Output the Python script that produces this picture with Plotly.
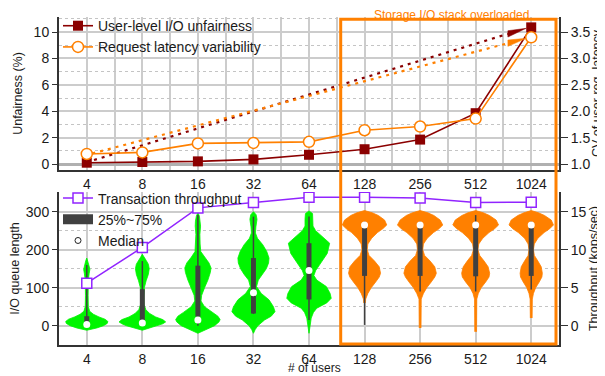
import plotly.graph_objects as go

# ---------------- data ----------------
users = ["4", "8", "16", "32", "64", "128", "256", "512", "1024"]
unfairness = [0.1, 0.15, 0.2, 0.35, 0.7, 1.12, 1.85, 3.85, 10.35]          # %
latency_cv = [1.19, 1.22, 1.39, 1.40, 1.42, 1.64, 1.71, 1.86, 3.40]         # CV
throughput = [5.6, 10.3, 15.5, 16.2, 16.9, 16.9, 16.8, 16.2, 16.25]         # kops/sec

trend_unfair_x = [0.13, 7.91]
trend_unfair_y = [0.3, 10.28]
trend_cv_x = [0.10, 7.91]
trend_cv_y = [1.2, 3.38]

# box statistics of I/O queue length
q25 = [6, 15, 24, 32, 69, 131, 131, 130, 131]
q75 = [25, 96, 158, 178, 217, 259, 259, 262, 259]
median = [3, 7, 15, 87, 145, 265, 265, 265, 265]
whisk_lo = [0, 0, 0, 31, 15, 2, 90, 90, 95]
whisk_hi = [160, 170, 291, 287, 287, 274, 274, 291, 274]

# violin density profiles (queue length level, relative half width)
v4_q = [-12, -6, 0, 6, 11, 17, 23, 30, 38, 50, 80, 120, 138, 148, 158, 170, 178]
v4_w = [0, .45, .75, .92, .95, .82, .55, .3, .13, .07, .06, .07, .11, .14, .1, .05, 0]
v8_q = [-12, -5, 0, 5, 10, 16, 23, 32, 42, 55, 75, 100, 118, 135, 150, 162, 172, 180, 188]
v8_w = [0, .4, .72, .92, 1.05, .92, .6, .33, .16, .08, .07, .09, .17, .27, .31, .27, .17, .08, 0]
v16_q = [-20, -10, 0, 10, 16, 25, 35, 50, 65, 80, 100, 120, 140, 152, 165, 180, 195, 215, 240, 262, 275, 288, 298]
v16_w = [0, .4, .75, .95, 1.0, .9, .65, .3, .14, .17, .3, .45, .56, .59, .5, .3, .13, .1, .09, .12, .11, .07, 0]
v32_q = [-20, -10, 0, 15, 25, 37, 50, 68, 85, 103, 120, 135, 150, 165, 178, 195, 213, 230, 244, 260, 280, 292, 300]
v32_w = [0, .08, .2, .5, .8, .97, .9, .7, .35, .14, .22, .42, .58, .68, .7, .6, .42, .18, .09, .11, .16, .12, 0]
v64_q = [-20, 0, 20, 35, 46, 60, 72, 85, 103, 120, 132, 145, 164, 190, 217, 235, 250, 262, 280, 295, 302]
v64_w = [0, .06, .1, .2, .35, .8, 1.0, .95, .78, .35, .22, .3, .52, .82, .93, .6, .3, .18, .18, .16, 0]
ov_q = [70, 85, 100, 115, 128, 138, 155, 170, 185, 200, 215, 230, 245, 255, 265, 278, 290, 297, 303]
o128_w = [.05, .15, .3, .5, .66, .72, .66, .45, .2, .12, .15, .32, .58, .82, 1.0, .9, .62, .35, 0]
o256_w = [.05, .15, .3, .5, .66, .73, .66, .45, .2, .12, .15, .32, .6, .85, 1.02, .9, .62, .35, 0]
o512_w = [.05, .12, .25, .45, .6, .63, .56, .38, .18, .1, .14, .32, .6, .85, 1.03, .92, .62, .35, 0]
o1024_w = [.05, .1, .2, .36, .48, .5, .45, .3, .14, .1, .14, .3, .58, .83, 1.0, .9, .6, .33, 0]
orange_stem_lo = [60, -6, -16, 20]

# ---------------- style ----------------
RED = "#8b0000"
ORANGE = "#ff8000"
GREEN = "#00f500"
PURPLE = "#9124ff"
BOXC = "#404040"
GRID = "#cccccc"
AXC = "#333333"
FONT = "Liberation Sans, Arial, sans-serif"
HALF = 0.40  # relative width 1 -> half width in category units

idx = list(range(len(users)))
fig = go.Figure()

# ---------------- top panel ----------------
def wedge(xs, ys, back, half):
    slope = (ys[-1] - ys[0]) / (xs[-1] - xs[0])
    xe, ye = xs[-1], ys[-1]
    xb = xe - back
    yb = ye - slope * back
    return [xe, xb, xb, xe], [ye, yb + half, yb - half, ye], xb, yb

wx, wy, xb, yb = wedge(trend_unfair_x, trend_unfair_y, 0.33, 0.24)
fig.add_trace(go.Scatter(x=[trend_unfair_x[0], xb], y=[trend_unfair_y[0], yb], mode="lines",
                         line=dict(color=RED, width=2.2, dash="3px,5px"), showlegend=False,
                         xaxis="x", yaxis="y", hoverinfo="skip"))
fig.add_trace(go.Scatter(x=wx, y=wy, mode="lines", fill="toself", fillcolor=RED,
                         line=dict(color=RED, width=0.5), showlegend=False,
                         xaxis="x", yaxis="y", hoverinfo="skip"))
wx2, wy2, xb2, yb2 = wedge(trend_cv_x, trend_cv_y, 0.33, 0.06)
fig.add_trace(go.Scatter(x=[trend_cv_x[0], xb2], y=[trend_cv_y[0], yb2], mode="lines",
                         line=dict(color=ORANGE, width=2.2, dash="3px,5px"), showlegend=False,
                         xaxis="x", yaxis="y2", hoverinfo="skip"))
fig.add_trace(go.Scatter(x=wx2, y=wy2, mode="lines", fill="toself", fillcolor=ORANGE,
                         line=dict(color=ORANGE, width=0.5), showlegend=False,
                         xaxis="x", yaxis="y2", hoverinfo="skip"))

fig.add_trace(go.Scatter(x=idx, y=unfairness, mode="lines+markers", name="User-level I/O unfairness",
                         line=dict(color=RED, width=1.6),
                         marker=dict(symbol="square", size=10, color=RED),
                         xaxis="x", yaxis="y", legend="legend"))
fig.add_trace(go.Scatter(x=idx, y=latency_cv, mode="lines+markers", name="Request latency variability",
                         line=dict(color=ORANGE, width=1.6),
                         marker=dict(symbol="circle", size=11, color="white",
                                     line=dict(color=ORANGE, width=1.5)),
                         xaxis="x", yaxis="y2", legend="legend"))

# ---------------- bottom panel: violins ----------------
green_profiles = [(v4_q, v4_w), (v8_q, v8_w), (v16_q, v16_w), (v32_q, v32_w), (v64_q, v64_w)]
orange_widths = [o128_w, o256_w, o512_w, o1024_w]
profiles = list(green_profiles)
for lo, w in zip(orange_stem_lo, orange_widths):
    profiles.append(([lo] + ov_q, [0.04] + w))

for i, (qs, ws) in enumerate(profiles):
    col = GREEN if i < 5 else ORANGE
    xs = [i + w * HALF for w in ws] + [i - w * HALF for w in reversed(ws)]
    ys = list(qs) + list(reversed(qs))
    fig.add_trace(go.Scatter(x=xs, y=ys, mode="lines", fill="toself", fillcolor=col,
                             line=dict(color=col, width=0.8), showlegend=False,
                             xaxis="x2", yaxis="y3", hoverinfo="skip"))

for i in idx:
    fig.add_trace(go.Scatter(x=[i, i], y=[whisk_lo[i], whisk_hi[i]], mode="lines",
                             line=dict(color=BOXC, width=1.5), showlegend=False,
                             xaxis="x2", yaxis="y3", hoverinfo="skip"))
    fig.add_trace(go.Scatter(x=[i, i], y=[q25[i], q75[i]], mode="lines",
                             line=dict(color=BOXC, width=5), showlegend=False,
                             xaxis="x2", yaxis="y3", hoverinfo="skip"))

fig.add_trace(go.Scatter(x=idx, y=median, mode="markers",
                         marker=dict(symbol="circle", size=7, color="white"),
                         showlegend=False, xaxis="x2", yaxis="y3", hoverinfo="skip"))

fig.add_trace(go.Scatter(x=idx, y=throughput, mode="lines+markers", name="Transaction throughput",
                         line=dict(color=PURPLE, width=1.5),
                         marker=dict(symbol="square", size=10, color="white",
                                     line=dict(color=PURPLE, width=1.5)),
                         xaxis="x2", yaxis="y4", legend="legend2"))
# legend-only entries
fig.add_trace(go.Scatter(x=[None], y=[None], mode="lines", name="25%~75%",
                         line=dict(color=BOXC, width=14), xaxis="x2", yaxis="y3", legend="legend2"))
fig.add_trace(go.Scatter(x=[None], y=[None], mode="markers", name="Median",
                         marker=dict(symbol="circle", size=6, color="white",
                                     line=dict(color="#222222", width=1)),
                         xaxis="x2", yaxis="y3", legend="legend2"))

# ---------------- layout ----------------
TOP_DOM = [0.5335, 1.0]
BOT_DOM = [0.0, 0.4665]
tickfont = dict(family=FONT, size=14, color="#1a1a1a")
titlefont = dict(family=FONT, size=12.5, color="#1a1a1a")

xcommon = dict(range=[-0.5, 8.5], tickmode="array", tickvals=idx, ticktext=users,
               showgrid=True, gridcolor=GRID, gridwidth=1.5, zeroline=False,
               showline=True, linecolor=AXC, linewidth=2, ticks="", tickfont=tickfont)

fig.update_layout(
    width=605, height=376,
    margin=dict(l=51, r=54, t=9, b=39, autoexpand=False),
    paper_bgcolor="white", plot_bgcolor="white",
    font=dict(family=FONT, size=14, color="#1a1a1a"),
    xaxis=dict(domain=[0, 1], anchor="y", **xcommon,
               minor=dict(tickmode="linear", tick0=0, dtick=0.5, showgrid=True,
                          gridcolor=GRID, gridwidth=1.5)),
    yaxis=dict(domain=TOP_DOM, anchor="x", range=[-0.4545, 11.136], tick0=0, dtick=2,
               showgrid=True, gridcolor=GRID, gridwidth=1.5, zeroline=True,
               zerolinecolor="#b0b0b0", zerolinewidth=2.5,
               showline=True, linecolor=AXC, linewidth=2, ticks="outside", ticklen=5,
               tickcolor=AXC, tickfont=tickfont,
               minor=dict(tick0=0, dtick=1, showgrid=True, gridcolor="#c4c4c4",
                          griddash="dot", gridwidth=1),
               title=dict(text="Unfairness (%)", font=titlefont, standoff=8)),
    yaxis2=dict(overlaying="y", side="right", anchor="x", range=[0.8864, 3.784],
                tick0=1, dtick=0.5, tickformat=".1f", showgrid=False, zeroline=False,
                showline=True, linecolor=AXC, linewidth=2, ticks="outside", ticklen=7,
                tickcolor=AXC, tickfont=tickfont,
                title=dict(text="CV of user req. latency", font=titlefont, standoff=3)),
    xaxis2=dict(domain=[0, 1], anchor="y3", **xcommon),
    yaxis3=dict(domain=BOT_DOM, anchor="x2", range=[-50.8, 351.8], tick0=0, dtick=100,
                showgrid=True, gridcolor=GRID, gridwidth=1.5, zeroline=False,
                showline=True, linecolor=AXC, linewidth=2, ticks="outside", ticklen=5,
                tickcolor=AXC, tickfont=tickfont,
                minor=dict(tick0=0, dtick=50, showgrid=True, gridcolor="#c4c4c4",
                           griddash="dot", gridwidth=1),
                title=dict(text="I/O queue length", font=titlefont, standoff=8)),
    yaxis4=dict(overlaying="y3", side="right", anchor="x2", range=[-2.54, 17.59],
                tick0=0, dtick=5, showgrid=False, zeroline=False,
                showline=True, linecolor=AXC, linewidth=2, ticks="outside", ticklen=7,
                tickcolor=AXC, tickfont=tickfont,
                title=dict(text="Throughput (kops/sec)", font=titlefont, standoff=3)),
    legend=dict(x=-0.002, y=1.021, xanchor="left", yanchor="top", bgcolor="rgba(255,255,255,0)",
                font=dict(family=FONT, size=14, color="#1a1a1a"), borderwidth=0,
                tracegroupgap=0, itemwidth=30),
    legend2=dict(x=-0.002, y=0.4955, xanchor="left", yanchor="top",
                 bgcolor="rgba(255,255,255,0)",
                 font=dict(family=FONT, size=14, color="#1a1a1a"), borderwidth=0,
                 tracegroupgap=0, itemwidth=30),
    shapes=[dict(type="rect", xref="paper", yref="paper", x0=0.5634, x1=0.994,
                 y0=0.003, y1=0.993, line=dict(color=ORANGE, width=3), layer="above")],
    annotations=[
        dict(text="Storage I/O stack overloaded", xref="paper", yref="paper",
             x=0.784, y=1.0075, xanchor="center", yanchor="middle", showarrow=False,
             font=dict(family=FONT, size=12, color=ORANGE)),
        dict(text="# of users", xref="paper", yref="paper", x=0.51, y=-0.0716,
             xanchor="center", yanchor="middle", showarrow=False,
             font=dict(family=FONT, size=12, color="#1a1a1a")),
    ],
)

fig.write_html("out.html")
